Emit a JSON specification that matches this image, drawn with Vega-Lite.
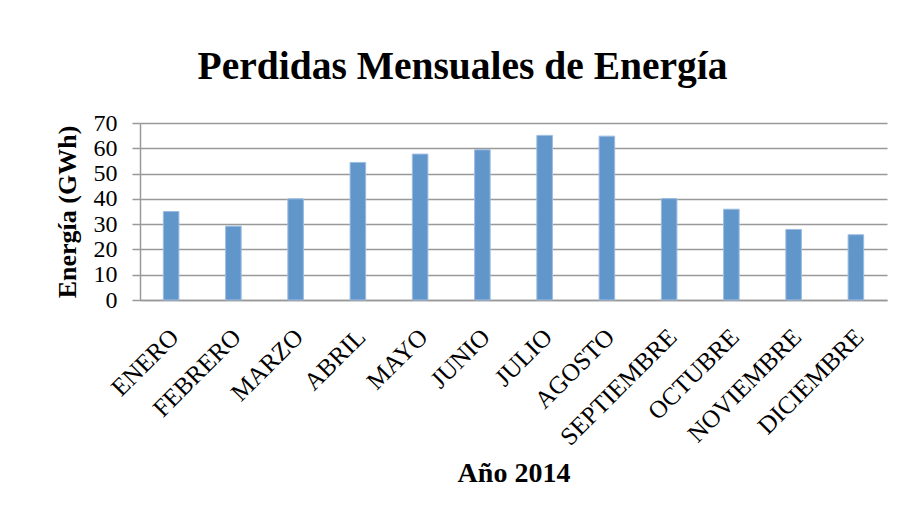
{
  "$schema": "https://vega.github.io/schema/vega-lite/v6.json",
  "autosize": "none",
  "width": 747,
  "height": 177,
  "padding": {"left": 140, "top": 123, "right": 18, "bottom": 221},
  "background": "white",
  "title": {
    "text": "Perdidas Mensuales de Energía",
    "font": "Liberation Serif",
    "fontSize": 39.5,
    "fontWeight": "bold",
    "color": "black",
    "anchor": "middle",
    "dx": -51,
    "offset": 24
  },
  "data": {
    "values": [
      {"mes": "ENERO", "energia": 35.0},
      {"mes": "FEBRERO", "energia": 29.2},
      {"mes": "MARZO", "energia": 40.0},
      {"mes": "ABRIL", "energia": 54.4},
      {"mes": "MAYO", "energia": 57.7},
      {"mes": "JUNIO", "energia": 59.4},
      {"mes": "JULIO", "energia": 65.1},
      {"mes": "AGOSTO", "energia": 64.8},
      {"mes": "SEPTIEMBRE", "energia": 40.1},
      {"mes": "OCTUBRE", "energia": 35.9},
      {"mes": "NOVIEMBRE", "energia": 27.9},
      {"mes": "DICIEMBRE", "energia": 25.8}
    ]
  },
  "mark": {"type": "bar", "color": "#6196CA", "stroke": "#9CBCE0", "strokeWidth": 1},
  "encoding": {
    "x": {
      "field": "mes",
      "type": "nominal",
      "sort": null,
      "scale": {"paddingInner": 0.75, "paddingOuter": 0.375},
      "axis": {
        "title": "Año 2014",
        "titleFont": "Liberation Serif",
        "titleFontSize": 28,
        "titleFontWeight": "bold",
        "titleColor": "black",
        "titlePadding": 10,
        "labelFont": "Liberation Serif",
        "labelFontSize": 25,
        "labelColor": "black",
        "labelAngle": -45,
        "labelPadding": 24,
        "labelOffset": -5,
        "labelOverlap": false,
        "labelBound": false,
        "ticks": false,
        "domainColor": "#999999",
        "domainWidth": 1.5,
        "grid": false
      }
    },
    "y": {
      "field": "energia",
      "type": "quantitative",
      "scale": {"domain": [0, 70]},
      "axis": {
        "title": "Energía (GWh)",
        "titleFont": "Liberation Serif",
        "titleFontSize": 26,
        "titleFontWeight": "bold",
        "titleColor": "black",
        "titlePadding": 13,
        "labelFont": "Liberation Serif",
        "labelFontSize": 24,
        "labelColor": "black",
        "labelPadding": 15,
        "labelOverlap": false,
        "labelBound": false,
        "values": [0, 10, 20, 30, 40, 50, 60, 70],
        "tickSize": 8,
        "tickColor": "#999999",
        "tickWidth": 1.5,
        "domainColor": "#999999",
        "domainWidth": 1.5,
        "gridColor": "#999999",
        "gridWidth": 1.5
      }
    }
  },
  "config": {"view": {"stroke": null}}
}
